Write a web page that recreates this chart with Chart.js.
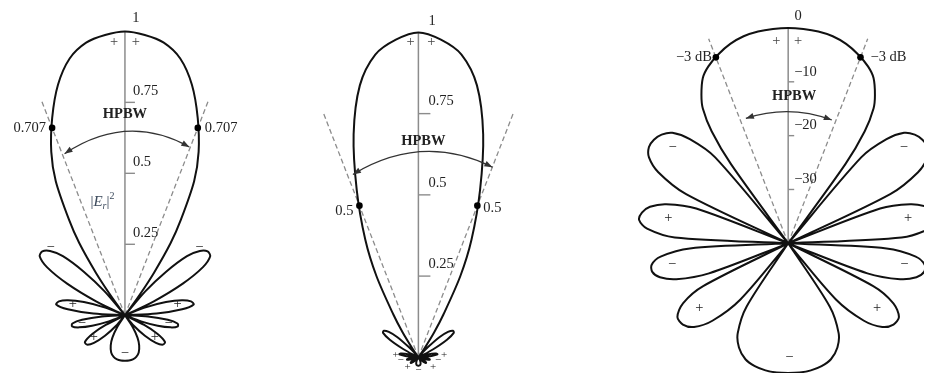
<!DOCTYPE html>
<html>
<head>
<meta charset="utf-8">
<script src="https://cdn.jsdelivr.net/npm/chart.js@4.4.0/dist/chart.umd.min.js"></script>
<style>
  html, body { margin: 0; padding: 0; background: #fff; }
  #wrap { position: relative; width: 928px; height: 377px; }
  #wrap canvas { position: absolute; left: 0; top: 0; }
</style>
</head>
<body>
<div id="wrap">
  <canvas id="field" width="928" height="377"></canvas>
  <canvas id="power" width="928" height="377"></canvas>
  <canvas id="decibel" width="928" height="377"></canvas>
</div>
<script>
// normalized field pattern |E| against angle off the array axis (deg),
// symmetric, so only 0..180 is listed; a 0 marks a null
const angles = [0, 4, 8, 12, 16, 20, 24, 27, 30, 32, 34, 35.5, 37,
  40, 43, 46, 49, 52, 55, 58, 61, 64, 66.5,
  69, 72, 75, 78, 81, 84, 87, 90,
  93, 96, 99, 102, 105, 108, 111, 113.5,
  117, 120, 124, 128, 132, 136, 140, 143,
  147, 151, 155, 160, 165, 170, 175, 180];
const fieldMag = [1.00, 0.99, 0.97, 0.925, 0.845, 0.74, 0.63, 0.53, 0.39, 0.30, 0.18, 0.08, 0,
  0.11, 0.21, 0.30, 0.345, 0.365, 0.362, 0.32, 0.23, 0.11, 0,
  0.08, 0.15, 0.205, 0.235, 0.242, 0.20, 0.11, 0,
  0.08, 0.15, 0.185, 0.188, 0.165, 0.12, 0.06, 0,
  0.075, 0.13, 0.168, 0.168, 0.145, 0.10, 0.048, 0,
  0.05, 0.09, 0.117, 0.14, 0.152, 0.158, 0.16, 0.16];

const hpbwHalf = 21;            // half the half-power beamwidth, deg
const linearTicks = [0.25, 0.5, 0.75];
const linearTickLabels = ['0.25', '0.5', '0.75'];
const dbTicks = [-10, -20, -30];
const dbTickLabels = ['\u221210', '\u221220', '\u221230'];
const dbFloor = -40;

const W = 928, H = 377;
const SERIF = "'Liberation Serif', 'DejaVu Serif', serif";
const MINUS = '\u2212';

function polarXY(deg, r) {
  const t = deg * Math.PI / 180;
  return { x: r * Math.sin(t), y: r * Math.cos(t) };
}

// go once round the circle starting at a null, breaking the line at every null
// so each lobe is its own run that starts and ends at the origin
function outline(radiusOf) {
  const ring = [];
  angles.forEach((a, i) => ring.push([a, fieldMag[i]]));
  for (let i = angles.length - 2; i > 0; i--) ring.push([-angles[i], fieldMag[i]]);
  const start = ring.findIndex(p => p[1] === 0);
  const seq = ring.slice(start).concat(ring.slice(0, start + 1));
  const pts = [];
  seq.forEach(([a, m], i) => {
    if (m === 0) {
      if (i > 0) pts.push({ x: 0, y: 0 }, { x: NaN, y: NaN });
      if (i < seq.length - 1) pts.push({ x: 0, y: 0 });
    } else {
      pts.push(polarXY(a, radiusOf(m)));
    }
  });
  return pts;
}

const panels = [
  {
    canvas: 'field', cx: 122, cy: 318, k: 290,
    value: m => m, radius: v => v,
    ticks: linearTicks, tickLabels: linearTickLabels, tickLen: 10, tickDx: 8, tickDy: -11,
    top: 1, dashLen: 0.81, half: 0.707, halfText: '0.707',
    halfLeft: [-6, 0], halfRight: [7, 0],
    texts: [
      { t: '1', x: 0.038, y: 1.048 },
      { t: '+', x: -0.038, y: 0.962, c: '#444' }, { t: '+', x: 0.038, y: 0.962, c: '#444' },
      { t: 'HPBW', x: 0, y: 0.707, bold: true },
      { t: MINUS, x: -0.259, y: 0.241 }, { t: MINUS, x: 0.259, y: 0.241 },
      { t: '+', x: -0.181, y: 0.038 }, { t: '+', x: 0.183, y: 0.038 },
      { t: MINUS, x: -0.15, y: -0.028 }, { t: MINUS, x: 0.152, y: -0.028 },
      { t: '+', x: -0.108, y: -0.078 }, { t: '+', x: 0.104, y: -0.076 },
      { t: MINUS, x: 0, y: -0.134 }
    ],
    arc: { from: [-0.21, 0.569], to: [0.224, 0.593], apex: 0.648 },
    powerLabel: { x: -0.12, y: 0.385 }
  },
  {
    canvas: 'power', cx: 418, cy: 361, k: 332,
    value: m => m * m, radius: v => v,
    ticks: linearTicks, tickLabels: linearTickLabels, tickLen: 12, tickDx: 10, tickDy: -12,
    top: 1, dashLen: 0.81, half: 0.5, halfText: '0.5',
    halfLeft: [-6, 6], halfRight: [6, 3],
    texts: [
      { t: '1', x: 0.042, y: 1.033 },
      { t: '+', x: -0.024, y: 0.970, c: '#444' }, { t: '+', x: 0.039, y: 0.970, c: '#444' },
      { t: 'HPBW', x: 0.015, y: 0.666, bold: true },
      { t: '+', x: -0.069, y: 0.006, s: 11 }, { t: MINUS, x: -0.054, y: -0.009, s: 11 },
      { t: '+', x: -0.033, y: -0.030, s: 11 }, { t: MINUS, x: 0, y: -0.039, s: 11 },
      { t: '+', x: 0.045, y: -0.030, s: 11 }, { t: MINUS, x: 0.06, y: -0.009, s: 11 },
      { t: '+', x: 0.078, y: 0.006, s: 11 }
    ],
    arc: { from: [-0.199, 0.563], to: [0.225, 0.585], apex: 0.633 }
  },
  {
    canvas: 'decibel', cx: 791, cy: 244.5, k: 5.5,
    value: m => 20 * Math.log10(m), radius: v => Math.max(0, v - dbFloor),
    ticks: dbTicks, tickLabels: dbTickLabels, tickLen: 6, tickDx: 6, tickDy: -10,
    top: 0, dashLen: 40.7, half: -3, halfText: MINUS + '3 dB',
    halfLeft: [-4, 0], halfRight: [10, 0],
    texts: [
      { t: '0', x: 1.82, y: 42.1 },
      { t: '+', x: -2.18, y: 37.5, c: '#444' }, { t: '+', x: 1.82, y: 37.5, c: '#444' },
      { t: 'HPBW', x: 1.09, y: 27.36, bold: true },
      { t: MINUS, x: -21.2, y: 17.8 }, { t: MINUS, x: 21.2, y: 17.8 },
      { t: '+', x: -22, y: 4.6 }, { t: '+', x: 22, y: 4.6 },
      { t: MINUS, x: -21.3, y: -3.9 }, { t: MINUS, x: 21.3, y: -3.9 },
      { t: '+', x: -16.3, y: -12.1 }, { t: '+', x: 16.3, y: -12.1 },
      { t: MINUS, x: 0.2, y: -21.2 }
    ],
    arc: { from: [-7.76, 23.2], to: [8.0, 22.9], apex: 24.45 }
  }
];

function arrowHead(ctx, tip, from) {
  const a = Math.atan2(tip[1] - from[1], tip[0] - from[0]);
  const len = 8, hw = 3;
  ctx.beginPath();
  ctx.moveTo(tip[0], tip[1]);
  ctx.lineTo(tip[0] - len * Math.cos(a) + hw * Math.sin(a), tip[1] - len * Math.sin(a) - hw * Math.cos(a));
  ctx.lineTo(tip[0] - len * Math.cos(a) - hw * Math.sin(a), tip[1] - len * Math.sin(a) + hw * Math.cos(a));
  ctx.closePath();
  ctx.fill();
}

function notesPlugin(p) {
  return {
    id: 'notes',
    afterDatasetsDraw(chart) {
      const ctx = chart.ctx;
      const sx = chart.scales.x, sy = chart.scales.y;
      const px = (x, y) => [sx.getPixelForValue(x), sy.getPixelForValue(y)];
      ctx.save();

      // tick marks on the vertical axis and their labels
      ctx.strokeStyle = '#8c8c8c';
      ctx.lineWidth = 1.4;
      ctx.fillStyle = '#222';
      ctx.font = '14.5px ' + SERIF;
      ctx.textAlign = 'left';
      ctx.textBaseline = 'middle';
      p.ticks.forEach((v, i) => {
        const [x0, y0] = px(0, p.radius(v));
        ctx.beginPath();
        ctx.moveTo(x0, y0);
        ctx.lineTo(x0 + p.tickLen, y0);
        ctx.stroke();
        ctx.fillText(p.tickLabels[i], x0 + p.tickDx, y0 + p.tickDy);
      });

      // labels next to the half-power points
      const l = polarXY(-hpbwHalf, p.radius(p.half));
      const r = polarXY(hpbwHalf, p.radius(p.half));
      const [lx, ly] = px(l.x, l.y), [rx, ry] = px(r.x, r.y);
      ctx.textAlign = 'right';
      ctx.fillText(p.halfText, lx + p.halfLeft[0], ly + p.halfLeft[1]);
      ctx.textAlign = 'left';
      ctx.fillText(p.halfText, rx + p.halfRight[0], ry + p.halfRight[1]);

      // lobe signs, scale values, HPBW caption
      ctx.textAlign = 'center';
      p.texts.forEach(n => {
        const [x, y] = px(n.x, n.y);
        ctx.font = (n.bold ? 'bold ' : '') + (n.s || 14.5) + 'px ' + SERIF;
        ctx.fillStyle = n.c || '#222';
        ctx.fillText(n.t, x, y);
      });

      // beamwidth arc with arrows at both ends
      const a0 = px(p.arc.from[0], p.arc.from[1]);
      const a2 = px(p.arc.to[0], p.arc.to[1]);
      const midX = (p.arc.from[0] + p.arc.to[0]) / 2;
      const cY = 2 * p.arc.apex - (p.arc.from[1] + p.arc.to[1]) / 2;
      const a1 = px(midX, cY);
      ctx.strokeStyle = '#333';
      ctx.fillStyle = '#333';
      ctx.lineWidth = 1.2;
      ctx.beginPath();
      ctx.moveTo(a0[0], a0[1]);
      ctx.quadraticCurveTo(a1[0], a1[1], a2[0], a2[1]);
      ctx.stroke();
      arrowHead(ctx, a0, a1);
      arrowHead(ctx, a2, a1);

      // |E_r|^2 caption
      if (p.powerLabel) {
        let [x, y] = px(p.powerLabel.x, p.powerLabel.y);
        ctx.fillStyle = '#3c4a5c';
        ctx.textAlign = 'left';
        ctx.textBaseline = 'alphabetic';
        const part = (t, font, dy) => {
          ctx.font = font;
          ctx.fillText(t, x, y + dy);
          x += ctx.measureText(t).width;
        };
        part('|', '15px ' + SERIF, 0);
        part('E', 'italic 15px ' + SERIF, 0);
        part('r', 'italic 10px ' + SERIF, 3);
        part('|', '15px ' + SERIF, 0);
        part('2', '10px ' + SERIF, -7);
      }
      ctx.restore();
    }
  };
}

panels.forEach(p => {
  const pattern = outline(m => p.radius(p.value(m)));
  const halfPts = [polarXY(-hpbwHalf, p.radius(p.half)), polarXY(hpbwHalf, p.radius(p.half))];
  const guide = (deg) => [{ x: 0, y: 0 }, polarXY(deg, p.dashLen)];

  new Chart(document.getElementById(p.canvas), {
    type: 'scatter',
    data: {
      datasets: [
        { data: halfPts, pointRadius: 3.3, pointBackgroundColor: '#000', pointBorderWidth: 0, showLine: false },
        { data: pattern, showLine: true, borderColor: '#111', borderWidth: 2, pointRadius: 0, tension: 0.3 },
        { data: guide(-hpbwHalf), showLine: true, borderColor: '#8c8c8c', borderWidth: 1.3, borderDash: [5, 3], pointRadius: 0 },
        { data: guide(hpbwHalf), showLine: true, borderColor: '#8c8c8c', borderWidth: 1.3, borderDash: [5, 3], pointRadius: 0 },
        { data: [{ x: 0, y: 0 }, { x: 0, y: p.radius(p.top) }], showLine: true, borderColor: '#8c8c8c', borderWidth: 1.5, pointRadius: 0 }
      ]
    },
    options: {
      responsive: false,
      animation: false,
      devicePixelRatio: 1,
      events: [],
      layout: { padding: 0 },
      plugins: { legend: { display: false }, tooltip: { enabled: false } },
      scales: {
        x: { type: 'linear', display: false, min: -p.cx / p.k, max: (W - p.cx) / p.k },
        y: { type: 'linear', display: false, min: -(H - p.cy) / p.k, max: p.cy / p.k }
      }
    },
    plugins: [notesPlugin(p)]
  });
});
</script>
</body>
</html>
